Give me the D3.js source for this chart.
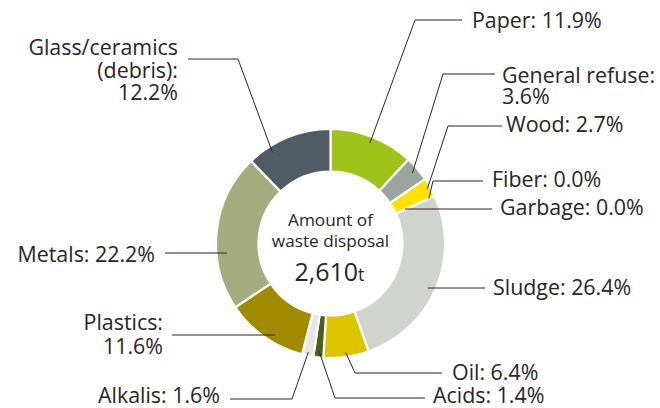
<!DOCTYPE html>
<html lang="en">
<head>
    <meta charset="UTF-8">
    <title>Amount of waste disposal</title>
    <script src="https://d3js.org/d3.v7.min.js"></script>
    <style>
        body { margin: 0; background: #fff; }
        svg { display: block; }
        .label text { font-family: "Open Sans", sans-serif; font-size: 21.4px; fill: #2b2523; }
        .leader { fill: none; stroke: #2b2523; stroke-width: 1; }
        .center text { font-family: "Open Sans", sans-serif; fill: #2b2523; }
    </style>
</head>
<body>
    <div id="chart"></div>
    <script>
        // waste composition, clockwise from 12 o'clock
        const categories = ["Paper", "General refuse", "Wood", "Fiber", "Garbage", "Sludge",
            "Oil", "Acids", "Alkalis", "Plastics", "Metals", "Glass/ceramics (debris)"];
        const shares = [11.9, 3.6, 2.7, 0.0, 0.0, 26.4, 6.4, 1.4, 1.6, 11.6, 22.2, 12.2];
        const colors = ["#a0c31a", "#9aa59e", "#ffe100", "#ffe100", "#d1d3cf", "#d1d3cf",
            "#dcc400", "#4a5e1a", "#e6e6e6", "#a08a00", "#a5ad80", "#505c63"];
        const labelLines = [
            ["Paper: 11.9%"],
            ["General refuse:", "3.6%"],
            ["Wood: 2.7%"],
            ["Fiber: 0.0%"],
            ["Garbage: 0.0%"],
            ["Sludge: 26.4%"],
            ["Oil: 6.4%"],
            ["Acids: 1.4%"],
            ["Alkalis: 1.6%"],
            ["Plastics:", "11.6%"],
            ["Metals: 22.2%"],
            ["Glass/ceramics", "(debris):", "12.2%"]
        ];
        const totalLabel = ["Amount of", "waste disposal"];
        const totalValue = "2,610";
        const totalUnit = "t";

        // label placement: text position, leader line y, elbow x (null = straight), end x near text
        const layout = [
            { tx: 472, ty: 28, anchor: "start", ly: 20, ex: 415, end: 462, r: 108 },
            { tx: 502, ty: 83, anchor: "start", ly: 74, ex: 443, end: 495, r: 108, lh: 20.5 },
            { tx: 506, ty: 132, anchor: "start", ly: 126, ex: 448, end: 502, r: 111 },
            { tx: 492, ty: 187, anchor: "start", ly: 181, ex: 433, end: 483, r: 108 },
            { tx: 500, ty: 215, anchor: "start", ly: 209, ex: null, end: 492, r: 82 },
            { tx: 493, ty: 295, anchor: "start", ly: 288, ex: null, end: 485, r: 107 },
            { tx: 452, ty: 380, anchor: "start", ly: 373, ex: 355, end: 442, r: 110 },
            { tx: 433, ty: 403, anchor: "start", ly: 398, ex: 335, end: 425, r: 108 },
            { tx: 220, ty: 403, anchor: "end", ly: 399, ex: 292, end: 230, r: 111 },
            { tx: 163, ty: 330, anchor: "end", ly: 335, ex: null, end: 172, r: 107, lh: 24 },
            { tx: 155, ty: 262, anchor: "end", ly: 253, ex: null, end: 165, r: 104 },
            { tx: 178, ty: 55, anchor: "end", ly: 59, ex: 238, end: 188, r: 108, t: 0.26, lh: 22.5 }
        ];

        const width = 660, height = 408;
        const cx = 330.5, cy = 243.5;
        const outerR = 114.5, innerR = 72;

        const data = categories.map((c, i) => ({ name: c, value: shares[i], i: i }));

        const svg = d3.select("#chart").append("svg")
            .attr("width", width)
            .attr("height", height);

        const g = svg.append("g").attr("transform", `translate(${cx},${cy})`);

        const pie = d3.pie().sort(null).value(d => d.value);
        const arcs = pie(data);
        const arc = d3.arc().innerRadius(innerR).outerRadius(outerR);

        g.selectAll("path.slice")
            .data(arcs.filter(d => d.data.value > 0))
            .enter().append("path")
            .attr("class", "slice")
            .attr("d", arc)
            .attr("fill", d => colors[d.data.i])
            .attr("stroke", "#fff")
            .attr("stroke-width", 2.2)
            .attr("stroke-linejoin", "miter");

        // leader lines
        const leaders = svg.append("g");
        arcs.forEach((a, i) => {
            const L = layout[i];
            let p0;
            if (L.ex === null) {
                // straight leader: meets circle of radius r at the line height
                const dy = L.ly - cy;
                const dx = Math.sqrt(L.r * L.r - dy * dy) * (L.end > cx ? 1 : -1);
                p0 = [cx + dx, L.ly];
            } else {
                const t = L.t === undefined ? 0.5 : L.t;
                const ang = a.startAngle + t * (a.endAngle - a.startAngle);
                p0 = [cx + L.r * Math.sin(ang), cy - L.r * Math.cos(ang)];
            }
            const pts = [p0];
            if (L.ex !== null) pts.push([L.ex, L.ly]);
            pts.push([L.end, L.ly]);
            leaders.append("path")
                .attr("class", "leader")
                .attr("d", d3.line()(pts));
        });

        // labels
        const labels = svg.append("g").attr("class", "label");
        labelLines.forEach((lines, i) => {
            const L = layout[i];
            const t = labels.append("text")
                .attr("text-anchor", L.anchor);
            lines.forEach((s, k) => {
                t.append("tspan")
                    .attr("x", L.tx)
                    .attr("y", L.ty + k * (L.lh || 22.5))
                    .text(s);
            });
        });

        // centre text
        const center = svg.append("g").attr("class", "center");
        center.append("text")
            .attr("x", cx).attr("y", 226)
            .attr("text-anchor", "middle")
            .style("font-size", "17.2px")
            .text(totalLabel[0]);
        center.append("text")
            .attr("x", cx).attr("y", 247)
            .attr("text-anchor", "middle")
            .style("font-size", "17.2px")
            .text(totalLabel[1]);
        const big = center.append("text")
            .attr("x", cx - 1).attr("y", 281)
            .attr("text-anchor", "middle");
        big.append("tspan").style("font-size", "25px").text(totalValue);
        big.append("tspan").style("font-size", "18px").text(totalUnit);
    </script>
</body>
</html>
